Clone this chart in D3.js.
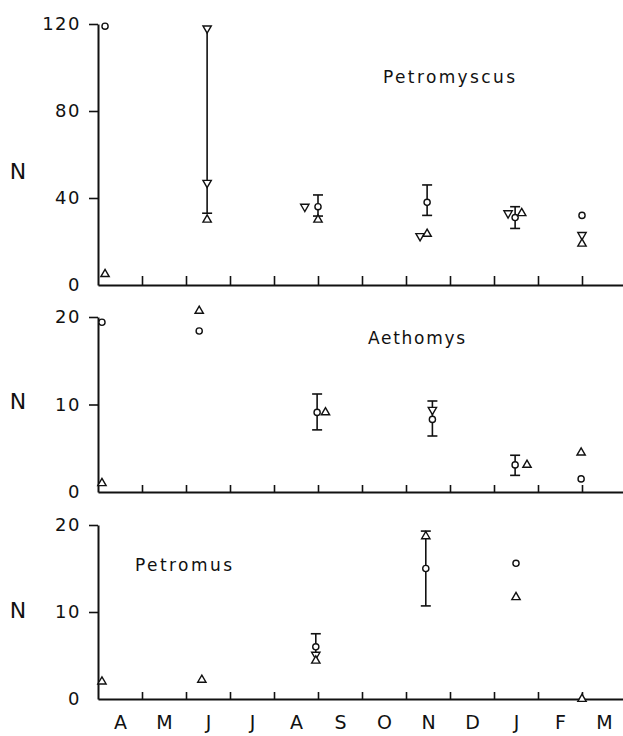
<!DOCTYPE html>
<html>
<head>
<meta charset="utf-8">
<script src="https://cdn.jsdelivr.net/npm/d3@7"></script>
<style>
  html, body { margin: 0; padding: 0; background: #fff; }
  svg { display: block; }
  text { font-family: "DejaVu Sans", sans-serif; fill: #111; }
</style>
</head>
<body>
<script>
// Month labels along the shared time axis (April to March)
const months = ["A", "M", "J", "J", "A", "S", "O", "N", "D", "J", "F", "M"];

// Y-axis tick values for each panel
const ticksPetromyscus = [0, 40, 80, 120];
const ticksAethomys = [0, 10, 20];
const ticksPetromus = [0, 10, 20];

// Points: [month position, N, symbol]  (symbols: "o" circle, "up" triangle, "down" inverted triangle)
const petromyscusPts = [
  [0.16, 119, "o"], [0.16, 5, "up"],
  [2.48, 118, "down"], [2.48, 47, "down"], [2.48, 30, "up"],
  [4.70, 36, "down"], [5.0, 36, "o"], [5.0, 30, "up"],
  [7.48, 38, "o"], [7.32, 22.5, "down"], [7.48, 23.5, "up"],
  [9.32, 33, "down"], [9.48, 31, "o"], [9.63, 33, "up"],
  [11.0, 32, "o"], [11.0, 23, "down"], [11.0, 19, "up"]
];
// Range bars: [month position, low, high, capped ends]
const petromyscusBars = [
  [2.48, 33, 118, "low"],
  [5.0, 31.7, 41.4, "both"],
  [7.48, 32, 46, "both"],
  [9.48, 26, 36, "both"]
];

const aethomysPts = [
  [0.09, 19.4, "o"], [0.09, 1.0, "up"],
  [2.3, 20.7, "up"], [2.3, 18.4, "o"],
  [4.98, 9.1, "o"], [5.17, 9.1, "up"],
  [7.6, 9.4, "down"], [7.6, 8.3, "o"],
  [9.48, 3.1, "o"], [9.75, 3.1, "up"],
  [10.98, 4.5, "up"], [10.98, 1.5, "o"]
];
const aethomysBars = [
  [4.98, 7.1, 11.2, "both"],
  [7.6, 6.4, 10.4, "both"],
  [9.48, 1.9, 4.2, "both"]
];

const petromusPts = [
  [0.09, 2.0, "up"],
  [2.36, 2.2, "up"],
  [4.95, 6.0, "o"], [4.95, 5.1, "down"], [4.95, 4.4, "up"],
  [7.45, 18.7, "up"], [7.45, 15.0, "o"],
  [9.5, 15.6, "o"], [9.5, 11.7, "up"],
  [11.0, 0, "up"]
];
const petromusBars = [
  [4.95, 4.5, 7.5, "high"],
  [7.45, 10.7, 19.3, "both"]
];

const W = 623, H = 736;
const svg = d3.select("body").append("svg").attr("width", W).attr("height", H);

const x = d3.scaleLinear().domain([0, 12]).range([98, 626]);

function drawPanel(opts) {
  const g = svg.append("g");
  const y = d3.scaleLinear().domain(opts.domain).range([opts.y0, opts.y1]);

  // y axis
  const ya = g.append("g").attr("transform", `translate(${x(0)},0)`)
    .call(d3.axisLeft(y).tickValues(opts.ticks).tickSize(9).tickSizeOuter(0).tickPadding(8));
  ya.select(".domain").attr("stroke", "#111").attr("stroke-width", 2);
  ya.selectAll(".tick line").attr("stroke", "#111").attr("stroke-width", 1.6)
    .filter(d => d === 0).remove();
  ya.selectAll(".tick text").attr("font-size", 18).attr("letter-spacing", 1.5)
    .attr("font-family", "DejaVu Sans, sans-serif").attr("fill", "#111");

  // x axis (month boundaries, ticks pointing up)
  const xa = g.append("g").attr("transform", `translate(0,${opts.y0})`)
    .call(d3.axisTop(x).tickValues(d3.range(1, 12)).tickSize(opts.tickLen).tickSizeOuter(0).tickFormat(""));
  xa.select(".domain").attr("stroke", "#111").attr("stroke-width", 2);
  xa.selectAll(".tick line").attr("stroke", "#111").attr("stroke-width", 1.6);

  if (opts.monthLabels) {
    const ma = g.append("g").attr("transform", `translate(0,${opts.y0})`)
      .call(d3.axisBottom(x).tickValues(d3.range(12).map(i => i + 0.5))
        .tickFormat((d, i) => months[i]).tickSize(0).tickPadding(17));
    ma.select(".domain").remove();
    ma.selectAll(".tick text").attr("font-size", 19)
      .attr("font-family", "DejaVu Sans, sans-serif").attr("fill", "#111");
  }

  // axis title
  g.append("text").attr("x", 18).attr("y", opts.nY).attr("text-anchor", "middle")
    .attr("dominant-baseline", "central").attr("font-size", 22).text("N");

  // species name
  g.append("text").attr("x", opts.labelX).attr("y", opts.labelY)
    .attr("font-size", 17).attr("textLength", opts.labelW).attr("lengthAdjust", "spacing")
    .text(opts.name);

  // range bars
  const cap = 5;
  opts.bars.forEach(([t, lo, hi, caps]) => {
    const bx = x(t);
    g.append("line").attr("x1", bx).attr("x2", bx).attr("y1", y(lo)).attr("y2", y(hi))
      .attr("stroke", "#111").attr("stroke-width", 1.6);
    if (caps === "both" || caps === "low")
      g.append("line").attr("x1", bx - cap).attr("x2", bx + cap).attr("y1", y(lo)).attr("y2", y(lo))
        .attr("stroke", "#111").attr("stroke-width", 1.6);
    if (caps === "both" || caps === "high")
      g.append("line").attr("x1", bx - cap).attr("x2", bx + cap).attr("y1", y(hi)).attr("y2", y(hi))
        .attr("stroke", "#111").attr("stroke-width", 1.6);
  });

  // symbols
  const sym = {
    o: d3.symbol().type(d3.symbolCircle).size(30),
    up: d3.symbol().type(d3.symbolTriangle).size(30),
    down: d3.symbol().type(d3.symbolTriangle).size(30)
  };
  g.selectAll("path.pt").data(opts.pts).join("path").attr("class", "pt")
    .attr("d", d => sym[d[2]]())
    .attr("transform", d => `translate(${x(d[0])},${y(d[1])})` + (d[2] === "down" ? " rotate(180)" : ""))
    .attr("fill", "#fff").attr("stroke", "#111").attr("stroke-width", 1.4);
}

drawPanel({
  name: "Petromyscus", domain: [0, 120], y0: 285, y1: 24, ticks: ticksPetromyscus,
  tickLen: 9, nY: 171, labelX: 383, labelY: 83, labelW: 132,
  pts: petromyscusPts, bars: petromyscusBars, monthLabels: false
});
drawPanel({
  name: "Aethomys", domain: [0, 20], y0: 492, y1: 317, ticks: ticksAethomys,
  tickLen: 7, nY: 401, labelX: 368, labelY: 344, labelW: 97,
  pts: aethomysPts, bars: aethomysBars, monthLabels: false
});
drawPanel({
  name: "Petromus", domain: [0, 20], y0: 699, y1: 525, ticks: ticksPetromus,
  tickLen: 7, nY: 610, labelX: 135, labelY: 571, labelW: 97,
  pts: petromusPts, bars: petromusBars, monthLabels: true
});
</script>
</body>
</html>
